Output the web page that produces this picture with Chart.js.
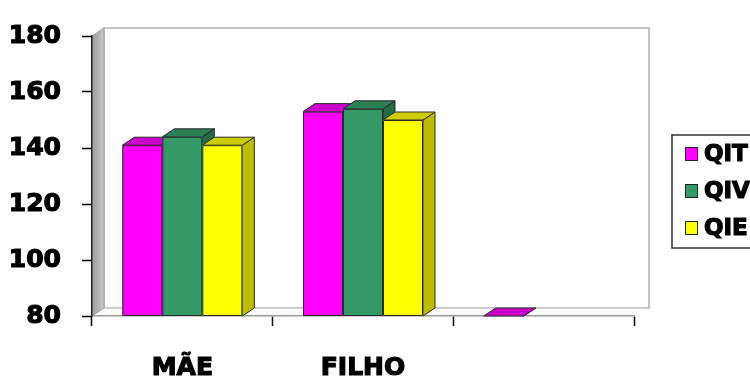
<!DOCTYPE html>
<html>
<head>
<meta charset="utf-8">
<script src="https://cdn.jsdelivr.net/npm/chart.js@4/dist/chart.umd.min.js"></script>
<style>
  html, body { margin: 0; padding: 0; background: #fff; overflow: hidden; }
  canvas { display: block; }
</style>
</head>
<body>
<canvas id="c" width="750" height="377"></canvas>
<script>
// Categories and series values
const categories = ['MÃE', 'FILHO', ''];
const qit = [141, 153, 0];
const qiv = [144, 154, null];
const qie = [141, 150, null];
const seriesNames = ['QIT', 'QIV', 'QIE'];
const yTicks = [80, 100, 120, 140, 160, 180];

// Face colours of each series: front, top, side
const faces = [
  { front: '#FF00FF', top: '#CC00CC', side: '#B000B0' },
  { front: '#339966', top: '#2A7F55', side: '#236B47' },
  { front: '#FFFF00', top: '#CCCC00', side: '#BDBD00' }
];

// depth of the 3D extrusion
const DX = 12, DY = 8;
const FONT = 'DejaVu Sans';

// Walls and floor drawn behind everything
const wallsPlugin = {
  id: 'walls',
  beforeDraw(chart) {
    const { ctx, chartArea: a } = chart;
    ctx.save();
    // back wall
    ctx.fillStyle = '#ffffff';
    ctx.fillRect(a.left + DX, a.top - DY, a.right - a.left + 3, a.bottom - a.top);
    ctx.strokeStyle = '#c4c4c4';
    ctx.lineWidth = 2;
    ctx.strokeRect(a.left + DX, a.top - DY, a.right - a.left + 3, a.bottom - a.top);
    // floor
    ctx.beginPath();
    ctx.moveTo(a.left, a.bottom);
    ctx.lineTo(a.right, a.bottom);
    ctx.lineTo(a.right + DX, a.bottom - DY);
    ctx.lineTo(a.left + DX, a.bottom - DY);
    ctx.closePath();
    ctx.fillStyle = '#fafafa';
    ctx.fill();
    ctx.strokeStyle = '#c8c8c8';
    ctx.lineWidth = 1.5;
    ctx.beginPath();
    ctx.moveTo(a.left + DX, a.bottom - DY);
    ctx.lineTo(a.right + DX + 3, a.bottom - DY);
    ctx.stroke();
    // left side wall
    const g = ctx.createLinearGradient(a.left, 0, a.left + DX, 0);
    g.addColorStop(0, '#9c9c9c');
    g.addColorStop(1, '#c8c8c8');
    ctx.beginPath();
    ctx.moveTo(a.left, a.top);
    ctx.lineTo(a.left + DX, a.top - DY);
    ctx.lineTo(a.left + DX, a.bottom - DY);
    ctx.lineTo(a.left, a.bottom);
    ctx.closePath();
    ctx.fillStyle = g;
    ctx.fill();
    ctx.strokeStyle = '#a0a0a0';
    ctx.lineWidth = 1;
    ctx.stroke();
    ctx.restore();
  }
};

// Draws each bar as a 3D block from the bar elements' geometry
const blocksPlugin = {
  id: 'blocks',
  beforeDatasetsDraw(chart) {
    const ctx = chart.ctx;
    const area = chart.chartArea;
    ctx.save();
    ctx.lineWidth = 1;
    ctx.strokeStyle = '#2a2a2a';
    ctx.lineJoin = 'round';
    chart.data.datasets.forEach((ds, i) => {
      const meta = chart.getDatasetMeta(i);
      const f = faces[i];
      meta.data.forEach((el, j) => {
        const v = ds.data[j];
        if (v === null || v === undefined) return;
        const L = el.x - el.width / 2, R = el.x + el.width / 2;
        // bars rest on the floor of the plot (axis minimum)
        const base = Math.min(el.base, area.bottom);
        const top = Math.min(el.y, base);
        // side
        ctx.beginPath();
        ctx.moveTo(R, top);
        ctx.lineTo(R + DX, top - DY);
        ctx.lineTo(R + DX, base - DY);
        ctx.lineTo(R, base);
        ctx.closePath();
        ctx.fillStyle = f.side;
        ctx.fill();
        ctx.stroke();
        // top
        ctx.beginPath();
        ctx.moveTo(L, top);
        ctx.lineTo(R, top);
        ctx.lineTo(R + DX, top - DY);
        ctx.lineTo(L + DX, top - DY);
        ctx.closePath();
        ctx.fillStyle = f.top;
        ctx.fill();
        ctx.stroke();
        // front
        if (base - top > 0) {
          ctx.fillStyle = f.front;
          ctx.fillRect(L, top, R - L, base - top);
          ctx.strokeRect(L + 0.5, top + 0.5, R - L - 1, base - top - 1);
        }
      });
    });
    ctx.restore();
    return false;
  }
};

// Boxed legend on the right
const legendPlugin = {
  id: 'boxLegend',
  afterDraw(chart) {
    const ctx = chart.ctx;
    ctx.save();
    ctx.strokeStyle = '#333';
    ctx.lineWidth = 1.5;
    ctx.strokeRect(672, 135, 130, 113);
    ctx.font = 'bold 23px "' + FONT + '"';
    ctx.textBaseline = 'middle';
    ctx.textAlign = 'left';
    chart.data.datasets.forEach((ds, i) => {
      const y = 154 + i * 37;
      ctx.fillStyle = faces[i].front;
      ctx.fillRect(685, y - 7, 13, 14);
      ctx.strokeStyle = '#222';
      ctx.lineWidth = 1;
      ctx.strokeRect(685.5, y - 6.5, 12, 13);
      ctx.fillStyle = '#000';
      ctx.strokeStyle = '#000';
      ctx.lineWidth = 1.2;
      ctx.fillText(ds.label, 704, y + 1);
      ctx.strokeText(ds.label, 704, y + 1);
    });
    ctx.restore();
  }
};

const tickFont = { family: FONT, weight: 'bold', size: 25 };

new Chart(document.getElementById('c'), {
  type: 'bar',
  data: {
    labels: categories,
    datasets: [
      { label: seriesNames[0], data: qit, backgroundColor: faces[0].front },
      { label: seriesNames[1], data: qiv, backgroundColor: faces[1].front },
      { label: seriesNames[2], data: qie, backgroundColor: faces[2].front }
    ]
  },
  options: {
    responsive: false,
    devicePixelRatio: 1,
    animation: false,
    layout: { padding: { left: 0, top: 23, right: 116, bottom: 0 } },
    datasets: { bar: { categoryPercentage: 0.664, barPercentage: 1 } },
    plugins: { legend: { display: false }, tooltip: { enabled: false } },
    scales: {
      x: {
        offset: true,
        grid: { offset: true, drawOnChartArea: false, drawTicks: true, tickLength: 10, tickColor: '#000', tickWidth: 1.5 },
        border: { display: true, color: '#9a9a9a', width: 1.5 },
        ticks: { font: tickFont, color: '#000', textStrokeColor: '#000', textStrokeWidth: 1.2, padding: 27, maxRotation: 0, autoSkip: false },
        afterFit(s) { s.height = 61; }
      },
      y: {
        min: 80,
        max: 180,
        afterBuildTicks(s) { s.ticks = yTicks.map(v => ({ value: v })); },
        grid: { drawOnChartArea: false, drawTicks: true, tickLength: 10, tickColor: '#000', tickWidth: 1.5 },
        border: { display: true, color: '#222', width: 1.5 },
        ticks: { font: tickFont, color: '#000', textStrokeColor: '#000', textStrokeWidth: 1.2, padding: 21 },
        afterFit(s) { s.width = 92; }
      }
    }
  },
  plugins: [wallsPlugin, blocksPlugin, legendPlugin]
});
</script>
</body>
</html>
